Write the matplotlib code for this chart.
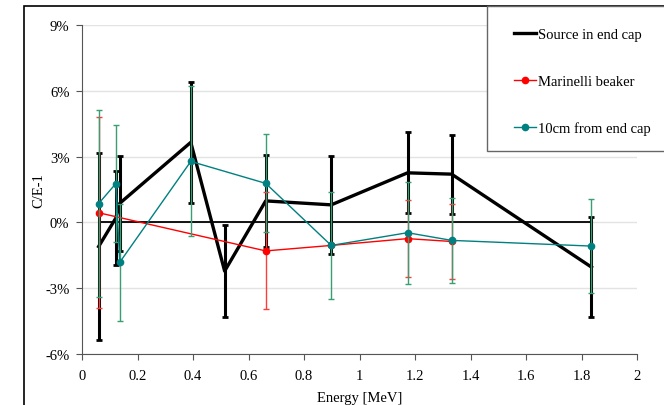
import numpy as np
import matplotlib
matplotlib.use("Agg")
import matplotlib.pyplot as plt
from matplotlib.patches import Rectangle
from matplotlib.lines import Line2D

plt.rcParams['font.family'] = ['Liberation Serif', 'DejaVu Serif']

# energies in MeV, values in %
e_src = [0.060, 0.122, 0.136, 0.392, 0.514, 0.662, 0.898, 1.173, 1.332, 1.836]
v_src = [-1.1, 0.2, 0.87, 3.65, -2.22, 0.98, 0.80, 2.26, 2.20, -2.04]
err_src = [4.25, 2.15, 2.17, 2.77, 2.1, 2.1, 2.25, 1.85, 1.8, 2.28]

e_mar = [0.060, 0.662, 0.898, 1.173, 1.332]
v_mar = [0.44, -1.3, -1.05, -0.74, -0.87]
err_mar = [4.35, 2.67, 0.0, 1.75, 1.71]

e_10cm = [0.060, 0.122, 0.136, 0.392, 0.662, 0.898, 1.173, 1.332, 1.836]
v_10cm = [0.86, 1.77, -1.82, 2.78, 1.78, -1.05, -0.47, -0.82, -1.08]
err_10cm = [4.28, 2.67, 2.67, 3.42, 2.24, 2.42, 2.33, 1.94, 2.15]

ref_e = [0.060, 1.836]
ref_v = [0.0, 0.0]

labels = ['Source in end cap', 'Marinelli beaker', '10cm from end cap']

fig = plt.figure(figsize=(6.64, 4.06), dpi=100)
ax = fig.add_axes([82/664, 1 - 355/406, (637-82)/664, (355-26)/406])

# outer chart frame and legend box
fig.patches.append(Rectangle((24/664, -0.1), 1.2, 1 - 7/406 + 0.1, transform=fig.transFigure,
                             fill=False, edgecolor='black', lw=1.2))
fig.patches.append(Rectangle((487/664, 1 - 152/406), 0.4, 145/406, transform=fig.transFigure,
                             fill=True, facecolor='white', edgecolor='#666666', lw=1, zorder=5))

ax.plot(ref_e, ref_v, color='black', lw=1.3, zorder=2)

ax.errorbar(e_src, v_src, yerr=err_src, color='black', lw=2.4, elinewidth=2.2,
            capsize=2, capthick=2, zorder=3)
ax.errorbar(e_mar, v_mar, yerr=err_mar, color='red', lw=1, elinewidth=1,
            ecolor='#ff3b3b', capsize=2, capthick=1, marker='o', ms=4.5, zorder=4)
ax.errorbar(e_10cm, v_10cm, yerr=err_10cm, color='#008080', lw=1, elinewidth=1,
            ecolor='#3a9e74', capsize=2, capthick=1, marker='o', ms=4.5, zorder=5)

ax.set_xlim(0, 2)
ax.set_ylim(-6, 9)
ax.set_xticks(np.arange(0, 2.01, 0.2))
ax.set_xticklabels(['0', '0.2', '0.4', '0.6', '0.8', '1', '1.2', '1.4', '1.6', '1.8', '2'])
ax.set_yticks([-6, -3, 0, 3, 6, 9])
ax.set_yticklabels(['-6%', '-3%', '0%', '3%', '6%', '9%'])
ax.yaxis.grid(True, color='#e3e3e3', lw=1)
ax.set_axisbelow(True)
for s in ['top', 'right']:
    ax.spines[s].set_visible(False)
for s in ['left', 'bottom']:
    ax.spines[s].set_color('#555555')
ax.tick_params(axis='both', direction='out', length=4, color='#555555', labelsize=10.5)
ax.tick_params(axis='x', pad=7)
ax.tick_params(axis='y', pad=5)

ax.set_xlabel('Energy [MeV]', fontsize=10.5, labelpad=6)
ax.set_ylabel('C/E-1', fontsize=10.5, labelpad=0)

handles = [Line2D([], [], color='black', lw=2.4),
           Line2D([], [], color='red', lw=1, marker='o', ms=4.5),
           Line2D([], [], color='#008080', lw=1, marker='o', ms=4.5)]
leg = fig.legend(handles, labels, loc='upper left',
                 bbox_to_anchor=(514/664, 1 - 29/406),
                 frameon=False, fontsize=10.5, handlelength=1.5, handletextpad=0.15,
                 labelspacing=2.3, borderpad=0, borderaxespad=0)
leg.set_zorder(6)

fig.savefig('out.png', dpi=100)
